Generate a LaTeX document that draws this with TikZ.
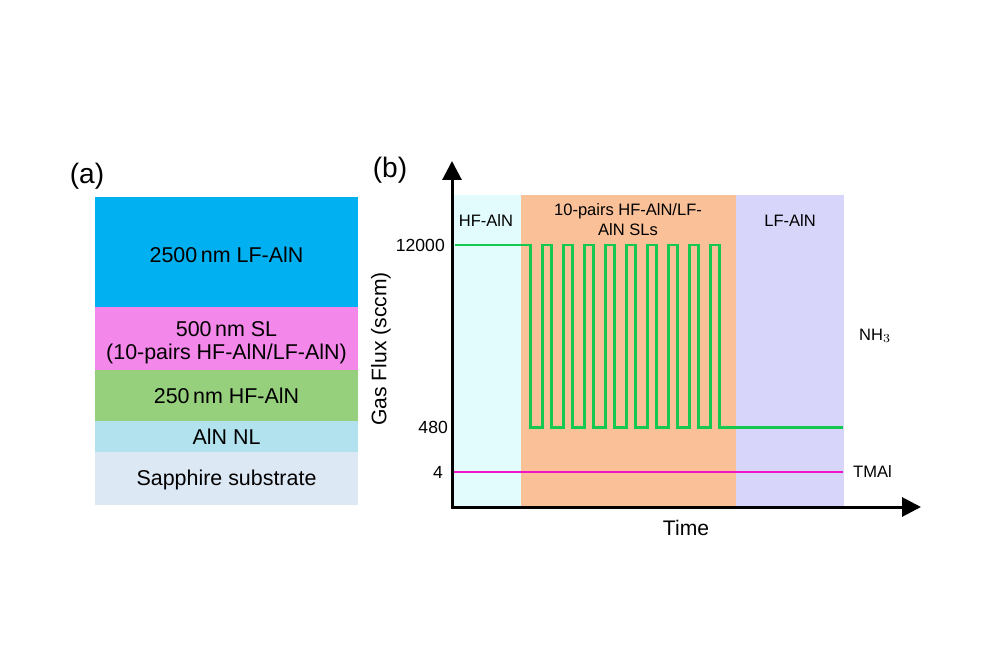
\documentclass[tikz,border=0pt]{standalone}
\usepackage{fontspec}
\setmainfont{Liberation Sans}
\usepackage{xcolor}
\usepackage{tikz}
\usetikzlibrary{arrows.meta,positioning}
\definecolor{lfblue}{RGB}{0, 176, 240}
\definecolor{slpink}{RGB}{244, 136, 234}
\definecolor{hfgreen}{RGB}{150, 208, 125}
\definecolor{nlcyan}{RGB}{178, 226, 238}
\definecolor{sapphire}{RGB}{221, 232, 245}
\definecolor{bandcyan}{RGB}{226, 252, 254}
\definecolor{bandorange}{RGB}{250, 192, 152}
\definecolor{bandlilac}{RGB}{216, 213, 250}
\definecolor{nhgreen}{RGB}{20, 200, 80}
\definecolor{tmamag}{RGB}{240, 20, 200}

\begin{document}
\begin{tikzpicture}[x=0.02cm, y=-0.02cm,
    layertext/.style={align=center, font=\fontsize{12.2}{12.9}\selectfont},
    bandtext/.style={align=center, font=\fontsize{9.4}{11.4}\selectfont},
    ticklabel/.style={anchor=east, font=\fontsize{10}{12}\selectfont},
    axislabel/.style={font=\fontsize{12}{14}\selectfont},
    panellabel/.style={font=\fontsize{16}{18}\selectfont},
    axisline/.style={line width=1.7pt, -{Triangle[length=0.38cm, width=0.38cm]}}]
    \useasboundingbox (0,0) rectangle (1000,666);

    % (a) layer stack
    \fill[sapphire] (95,452) rectangle (358,505);
    \fill[nlcyan] (95,421) rectangle (358,452);
    \fill[hfgreen] (95,370) rectangle (358,421);
    \fill[slpink] (95,307) rectangle (358,370);
    \fill[lfblue] (95,197) rectangle (358,307);
    \node[panellabel] (labela) at (87,176) {(a)};
    \node[layertext] (lflayer) at (226.5,255) {2500\,nm LF-AlN};
    \node[layertext] (sllayer) at (226.5,343) {500\,nm SL\\(10-pairs HF-AlN/LF-AlN)};
    \node[layertext] (hflayer) at (226.5,396) {250\,nm HF-AlN};
    \node[layertext] (nllayer) at (226.5,437) {AlN NL};
    \node[layertext] (sublayer) at (226.5,480) {Sapphire substrate};

    % (b) growth bands
    \fill[bandcyan] (452,195) rectangle (521,507);
    \fill[bandorange] (521,195) rectangle (736,507);
    \fill[bandlilac] (736,195) rectangle (844,507);
    \node[panellabel] (labelb) at (390,170) {(b)};
    \node[bandtext] (hfband) at (486,221) {HF-AlN};
    \node[bandtext] (slband) at (628,220) {10-pairs HF-AlN/LF-\\AlN SLs};
    \node[bandtext] (lfband) at (790,221) {LF-AlN};

    % gas lines
    \draw[tmamag, line width=1.1pt] (454,472) -- (843,472);
    \draw[nhgreen, line width=1.7pt, line join=miter]
        (455,245) -- (530,245) -- (530,427)
        \foreach \i in {0,...,8} {
            -- ({542+21.1*\i},427) -- ({542+21.1*\i},245)
            -- ({551+21.1*\i},245) -- ({551+21.1*\i},427)
        } -- (843,427);

    % axes
    \coordinate (origin) at (452,507);
    \coordinate (ytop) at (452,161);
    \coordinate (xend) at (921,507);
    \draw[axisline] ([yshift=-0.85pt]origin) -- (ytop);
    \draw[axisline] ([xshift=-0.85pt]origin) -- (xend);

    \node[ticklabel] (tickhigh) at (451,245) {12000};
    \node[ticklabel] (ticklow) at (454,427) {480};
    \node[ticklabel] (tickfour) at (449,472) {4};
    \node[axislabel, rotate=90] (ylabel) at (381,349) {Gas Flux (sccm)};
    \node[axislabel] (xlabel) at (686,528) {Time};
    \node[bandtext, anchor=west] (nhlabel) at (853,336) {NH$_3$};
    \node[bandtext, anchor=west] (tmalabel) at (847,472) {TMAl};
\end{tikzpicture}
\end{document}
